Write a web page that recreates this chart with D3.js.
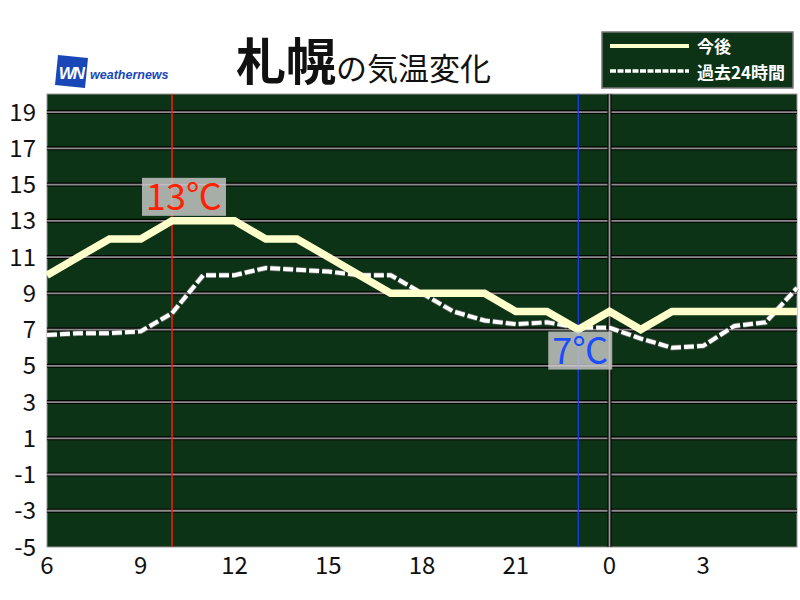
<!DOCTYPE html>
<html><head><meta charset="utf-8">
<script src="https://cdn.jsdelivr.net/npm/d3@7"></script>
<style>body{margin:0;background:#fff;} svg{display:block;}</style>
</head><body>
<svg id="c" width="800" height="600"></svg>
<script>
const hourLabels = [6,7,8,9,10,11,12,13,14,15,16,17,18,19,20,21,22,23,0,1,2,3,4,5,6];
const forecast = [10,11,12,12,13,13,13,12,12,11,10,9,9,9,9,8,8,7,8,7,8,8,8,8,8];
const past = [6.7,6.8,6.8,6.9,7.9,10,10,10.4,10.3,10.2,10,10,9,8,7.5,7.3,7.4,7.1,7.1,6.5,6,6.1,7.2,7.4,9.3];
const yTicks = [-5,-3,-1,1,3,5,7,9,11,13,15,17,19];
const xTickIdx = [0,3,6,9,12,15,18,21];
const legendLabels = ["今後","過去24時間"];
const titleMain = "札幌", titleSub = "の気温変化";

const svg = d3.select("#c");
const L=47, R=797, T=94, B=547;
const x = d3.scaleLinear().domain([0,24]).range([L,R]);
const y = d3.scaleLinear().domain([-5,20]).range([B,T]);
const font = "'Noto Sans CJK JP','Noto Sans',sans-serif";

// plot bg
svg.append("rect").attr("x",L).attr("y",T).attr("width",R-L).attr("height",B-T)
  .attr("fill","#0c3315").attr("stroke","#9a9a9a").attr("stroke-width",1);

// grid
const g = svg.append("g");
yTicks.filter(v=>v>-5).forEach(v=>{
  g.append("line").attr("x1",L).attr("x2",R).attr("y1",y(v)).attr("y2",y(v))
    .attr("stroke","#000").attr("stroke-width",4);
  g.append("line").attr("x1",L).attr("x2",R).attr("y1",y(v)).attr("y2",y(v))
    .attr("stroke","#8c8c8c").attr("stroke-width",1.8);
});
// midnight line
const midIdx = hourLabels.indexOf(0);
g.append("line").attr("x1",x(midIdx)).attr("x2",x(midIdx)).attr("y1",T).attr("y2",B).attr("stroke","#000").attr("stroke-width",4);
g.append("line").attr("x1",x(midIdx)).attr("x2",x(midIdx)).attr("y1",T).attr("y2",B).attr("stroke","#9a9a9a").attr("stroke-width",1.8);

// max / min markers
const maxV = d3.max(forecast), minV = d3.min(forecast);
const maxI = forecast.indexOf(maxV), minI = forecast.indexOf(minV);
g.append("line").attr("x1",x(maxI)).attr("x2",x(maxI)).attr("y1",T).attr("y2",B).attr("stroke","#ff1a00").attr("stroke-width",1.5);
g.append("line").attr("x1",x(minI)).attr("x2",x(minI)).attr("y1",T).attr("y2",B).attr("stroke","#1a3cff").attr("stroke-width",1.2);

// lines
const line = d3.line().x((d,i)=>x(i)).y(d=>y(d));
svg.append("path").datum(past).attr("d",line).attr("fill","none")
  .attr("stroke","#6a6a6a").attr("stroke-width",5.5).attr("stroke-dasharray","10,3");
svg.append("path").datum(past).attr("d",line).attr("fill","none")
  .attr("stroke","#fff").attr("stroke-width",4).attr("stroke-dasharray","10,3");
svg.append("path").datum(forecast).attr("d",line).attr("fill","none")
  .attr("stroke","#ffffcc").attr("stroke-width",7.5).attr("stroke-linejoin","miter");

// labels
function tempLabel(i,v,above,color){
  const gg = svg.append("g");
  const t = gg.append("text").attr("x",x(i)-26).attr("font-family",font).attr("font-size",36)
    .attr("fill",color).text(v+"℃");
  const top = above ? y(v)-43 : y(v)+2;
  t.attr("y",top+32);
  const bb = t.node().getBBox();
  gg.insert("rect","text").attr("x",x(i)-30).attr("y",top).attr("width",bb.width+8).attr("height",38)
    .attr("fill","#c9c9c9").attr("opacity",0.82);
}
tempLabel(maxI,maxV,true,"#ff2200");
tempLabel(minI,minV,false,"#1a4dff");

// y axis labels
svg.append("g").selectAll("text").data(yTicks).join("text")
  .attr("x",36).attr("y",d=>y(d)+8.5).attr("text-anchor","end")
  .attr("font-family",font).attr("font-size",24).attr("fill","#111").text(d=>d);
// x axis labels
svg.append("g").selectAll("text").data(xTickIdx).join("text")
  .attr("x",d=>x(d)).attr("y",574).attr("text-anchor","middle")
  .attr("font-family",font).attr("font-size",24).attr("fill","#111").text(d=>hourLabels[d]);

// title
const tt = svg.append("text").attr("x",236).attr("y",80).attr("font-family",font).attr("fill","#111");
tt.append("tspan").attr("font-size",50).attr("font-weight","bold").text(titleMain);
tt.append("tspan").attr("font-size",31).text(titleSub);

// logo
const lg = svg.append("g");
lg.append("path").attr("d","M58,55 L88,58 L85,88 L55,85 Z").attr("fill","#1a47b8");
lg.append("text").attr("x",71).attr("y",79).attr("text-anchor","middle").attr("font-family","'Liberation Sans',sans-serif")
  .attr("font-weight","bold").attr("font-style","italic").attr("font-size",17).attr("fill","#fff").attr("letter-spacing",-2).text("WN");
lg.append("text").attr("x",90).attr("y",79).attr("font-family","'Liberation Sans',sans-serif")
  .attr("font-weight","bold").attr("font-style","italic").attr("font-size",12.5).attr("fill","#1a47b8").text("weathernews");

// legend
const lgd = svg.append("g");
lgd.append("rect").attr("x",602).attr("y",32).attr("width",191).attr("height",56)
  .attr("fill","#0c3315").attr("stroke","#777").attr("stroke-width",1.5);
lgd.append("line").attr("x1",610).attr("x2",689).attr("y1",46).attr("y2",46).attr("stroke","#ffffcc").attr("stroke-width",4);
lgd.append("line").attr("x1",610).attr("x2",689).attr("y1",71).attr("y2",71).attr("stroke","#fff").attr("stroke-width",3.5).attr("stroke-dasharray","6,1.5");
lgd.selectAll("text.l").data(legendLabels).join("text").attr("class","l")
  .attr("x",697).attr("y",(d,i)=>53+i*26).attr("font-family",font).attr("font-weight","bold")
  .attr("font-size",17).attr("fill","#fff").text(d=>d);
</script>
</body></html>
